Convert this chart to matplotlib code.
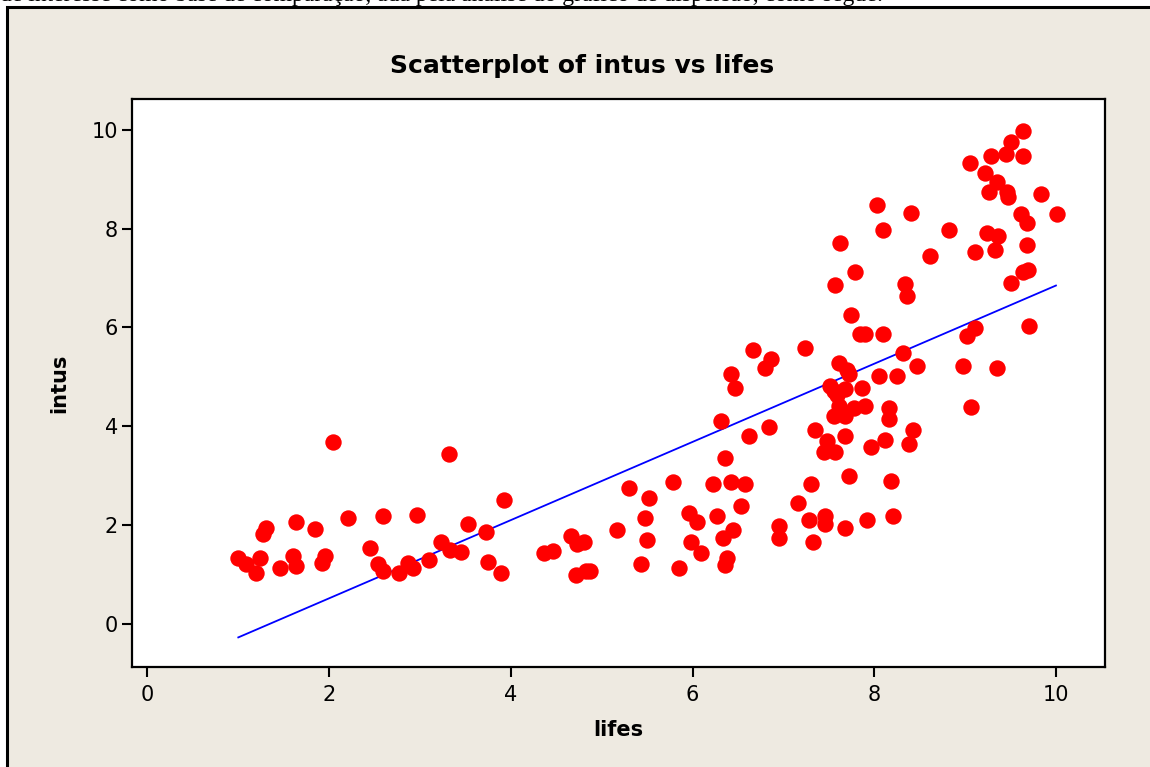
import matplotlib.pyplot as plt
from matplotlib.patches import Rectangle

# data
lifes = [
    1.00, 1.08, 1.20, 1.24, 1.27, 1.30, 1.46, 1.60, 1.64, 1.64,
    1.84, 1.92, 1.95, 2.04, 2.21, 2.45, 2.54, 2.59, 2.59, 2.77,
    2.87, 2.92, 2.97, 3.10, 3.23, 3.32, 3.33, 3.45, 3.53, 3.73,
    3.75, 3.89, 3.93, 4.37, 4.46, 4.66, 4.72, 4.73, 4.80, 4.83,
    4.87, 5.17, 5.30, 5.43, 5.48, 5.50, 5.52, 5.78, 5.85, 5.96,
    5.98, 6.05, 6.09, 6.23, 6.27, 6.31, 6.34, 6.36, 6.36, 6.38,
    6.42, 6.42, 6.45, 6.47, 6.53, 6.58, 6.62, 6.67, 6.80, 6.84,
    6.86, 6.95, 6.95, 7.16, 7.24, 7.28, 7.30, 7.33, 7.35, 7.45,
    7.46, 7.46, 7.48, 7.51, 7.56, 7.56, 7.57, 7.57, 7.59, 7.61,
    7.61, 7.62, 7.68, 7.68, 7.68, 7.68, 7.70, 7.72, 7.72, 7.74,
    7.78, 7.79, 7.84, 7.86, 7.90, 7.90, 7.92, 7.96, 8.03, 8.05,
    8.10, 8.10, 8.12, 8.16, 8.16, 8.18, 8.21, 8.25, 8.32, 8.34,
    8.36, 8.38, 8.40, 8.43, 8.47, 8.61, 8.82, 8.98, 9.02, 9.05,
    9.06, 9.11, 9.11, 9.22, 9.24, 9.26, 9.29, 9.33, 9.35, 9.35,
    9.36, 9.45, 9.46, 9.47, 9.51, 9.51, 9.62, 9.64, 9.64, 9.64,
    9.68, 9.68, 9.69, 9.70, 9.84, 10.01,
]
intus = [
    1.32, 1.20, 1.03, 1.32, 1.81, 1.93, 1.12, 1.37, 1.16, 2.05,
    1.92, 1.23, 1.37, 3.67, 2.13, 1.53, 1.20, 2.17, 1.07, 1.03,
    1.22, 1.12, 2.21, 1.28, 1.65, 3.43, 1.50, 1.45, 2.01, 1.85,
    1.24, 1.03, 2.50, 1.44, 1.48, 1.77, 0.99, 1.61, 1.65, 1.07,
    1.07, 1.89, 2.74, 1.20, 2.13, 1.69, 2.54, 2.86, 1.12, 2.25,
    1.65, 2.05, 1.44, 2.82, 2.17, 4.11, 1.73, 3.35, 1.19, 1.33,
    5.06, 2.86, 1.89, 4.77, 2.38, 2.82, 3.80, 5.54, 5.17, 3.99,
    5.37, 1.97, 1.73, 2.45, 5.58, 2.09, 2.82, 1.65, 3.92, 3.48,
    2.17, 2.01, 3.69, 4.81, 4.71, 4.20, 3.48, 6.87, 4.64, 5.29,
    4.40, 7.72, 4.75, 4.20, 3.80, 1.93, 5.14, 5.06, 2.99, 6.26,
    4.36, 7.12, 5.86, 4.77, 5.86, 4.40, 2.09, 3.58, 8.49, 5.01,
    7.97, 5.86, 3.71, 4.37, 4.15, 2.89, 2.17, 5.01, 5.49, 6.88,
    6.63, 3.64, 8.33, 3.92, 5.21, 7.44, 7.97, 5.21, 5.82, 9.34,
    4.39, 7.52, 5.98, 9.14, 7.92, 8.74, 9.47, 7.56, 8.95, 5.17,
    7.86, 9.51, 8.74, 8.65, 9.75, 6.91, 8.29, 9.99, 9.47, 7.13,
    8.12, 7.68, 7.17, 6.02, 8.70, 8.29,
]

# fitted line as drawn in the reference
fit_x = [1.0, 10.0]
fit_y = [-0.28, 6.85]

x_ticks = [0, 2, 4, 6, 8, 10]
y_ticks = [0, 2, 4, 6, 8, 10]

page_text = ("de interesse como base de comparação, ada pela análise do "
             "gráfico de dispersão, como segue:")

fig = plt.figure(figsize=(11.5, 7.67), dpi=100)
fig.patch.set_facecolor("white")

# only the bottom of this document line shows above the chart window
fig.text(0.0, 1 - 1.5 / 767, page_text, family="Liberation Serif",
         fontsize=17, va="baseline", ha="left", color="black")

# beige graph window
fig.patches.append(Rectangle((7 / 1150, -0.05), 1.2, 1 - 7 / 767 + 0.05,
                             transform=fig.transFigure, facecolor="#EEEAE1",
                             edgecolor="black", linewidth=2.2, zorder=1))

ax = fig.add_axes([132 / 1150, 100 / 767, (1105 - 132) / 1150, (667 - 99) / 767])
ax.set_facecolor("white")
ax.set_zorder(2)

ax.plot(lifes, intus, "o", color="#FF0000", markersize=11.8,
        markeredgewidth=0, zorder=3)
ax.plot(fit_x, fit_y, color="#0000FF", linewidth=1.3, zorder=2)

ax.set_xlim(-0.17, 10.54)
ax.set_ylim(-0.88, 10.63)
ax.set_xticks(x_ticks)
ax.set_yticks(y_ticks)
ax.tick_params(axis="both", direction="out", length=7, width=1.5,
               labelsize=15, colors="black")
ax.tick_params(axis="x", pad=6)
ax.tick_params(axis="y", pad=3)

for spine in ax.spines.values():
    spine.set_linewidth(1.6)
    spine.set_color("black")

ax.set_title("Scatterplot of intus vs lifes", fontsize=18,
             fontweight="bold", pad=19, x=(582 - 132) / 973)
ax.set_xlabel("lifes", fontsize=15, fontweight="bold", labelpad=11)
ax.set_ylabel("intus", fontsize=15, fontweight="bold", labelpad=16)

plt.savefig("out.png", dpi=100)
plt.close()
